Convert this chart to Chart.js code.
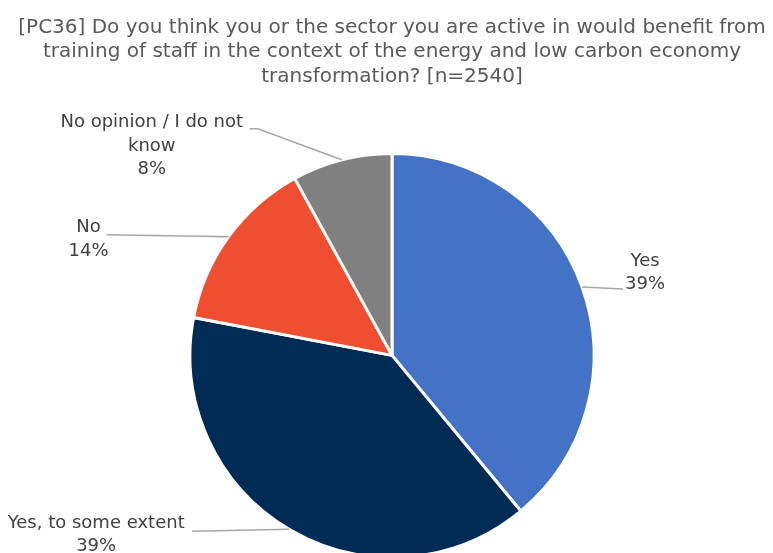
<!DOCTYPE html>
<html>
<head>
<meta charset="utf-8">
<script src="https://cdn.jsdelivr.net/npm/chart.js@4/dist/chart.umd.min.js"></script>
<style>
  html, body { margin: 0; padding: 0; background: #fff; }
  #wrap { width: 773px; height: 553px; }
</style>
</head>
<body>
<div id="wrap"><canvas id="pieChart"></canvas></div>
<script>
const categories = ["Yes", "Yes, to some extent", "No", ["No opinion / I do not", "know"]];
const shares = [39, 39, 14, 8];
const sliceColors = ["#4472C4", "#002B54", "#EF4F30", "#808080"];

// where each callout sits, relative to the point on the rim at the slice middle
const callouts = [
    { path: [[41, 2]], dx: 63, dy: -26 },
    { path: [[-97, 2]], dx: -193, dy: -6 },
    { path: [[-122, -2]], dx: -140, dy: -9 },
    { path: [[-84, -31], [-92, -31]], dx: -190, dy: -37 }
];

const calloutPlugin = {
    id: "callouts",
    afterDatasetsDraw(chart) {
        const ctx = chart.ctx;
        const arcs = chart.getDatasetMeta(0).data;
        ctx.save();
        arcs.forEach((arc, i) => {
            const p = arc.getProps(["x", "y", "startAngle", "endAngle", "outerRadius"], true);
            const mid = (p.startAngle + p.endAngle) / 2;
            const ex = p.x + Math.cos(mid) * p.outerRadius;
            const ey = p.y + Math.sin(mid) * p.outerRadius;
            const c = callouts[i];

            ctx.strokeStyle = "#A6A6A6";
            ctx.lineWidth = 1.5;
            ctx.beginPath();
            ctx.moveTo(ex, ey);
            c.path.forEach(pt => ctx.lineTo(ex + pt[0], ey + pt[1]));
            ctx.stroke();

            let lines = [].concat(categories[i]);
            lines.push(shares[i] + "%");
            ctx.fillStyle = "#404040";
            ctx.font = "18px 'DejaVu Sans'";
            ctx.textAlign = "center";
            ctx.textBaseline = "middle";
            lines.forEach((t, k) => {
                ctx.fillText(t, ex + c.dx, ey + c.dy + k * 23.5);
            });
        });
        ctx.restore();
    }
};

new Chart(document.getElementById("pieChart"), {
    type: "pie",
    data: {
        labels: categories,
        datasets: [{
            data: shares,
            backgroundColor: sliceColors,
            borderColor: "#ffffff",
            borderWidth: 3
        }]
    },
    options: {
        responsive: true,
        maintainAspectRatio: false,
        animation: false,
        radius: 202,
        layout: { padding: { left: 11, top: 0, right: 0, bottom: 0 } },
        plugins: {
            legend: { display: false },
            tooltip: { enabled: false },
            title: {
                display: true,
                text: [
                    "[PC36] Do you think you or the sector you are active in would benefit from",
                    "training of staff in the context of the energy and low carbon economy",
                    "transformation? [n=2540]"
                ],
                color: "#595959",
                font: { family: "'DejaVu Sans'", size: 20, weight: "normal", lineHeight: 1.23 },
                padding: { top: 15, bottom: 69 }
            }
        }
    },
    plugins: [calloutPlugin]
});
</script>
</body>
</html>
